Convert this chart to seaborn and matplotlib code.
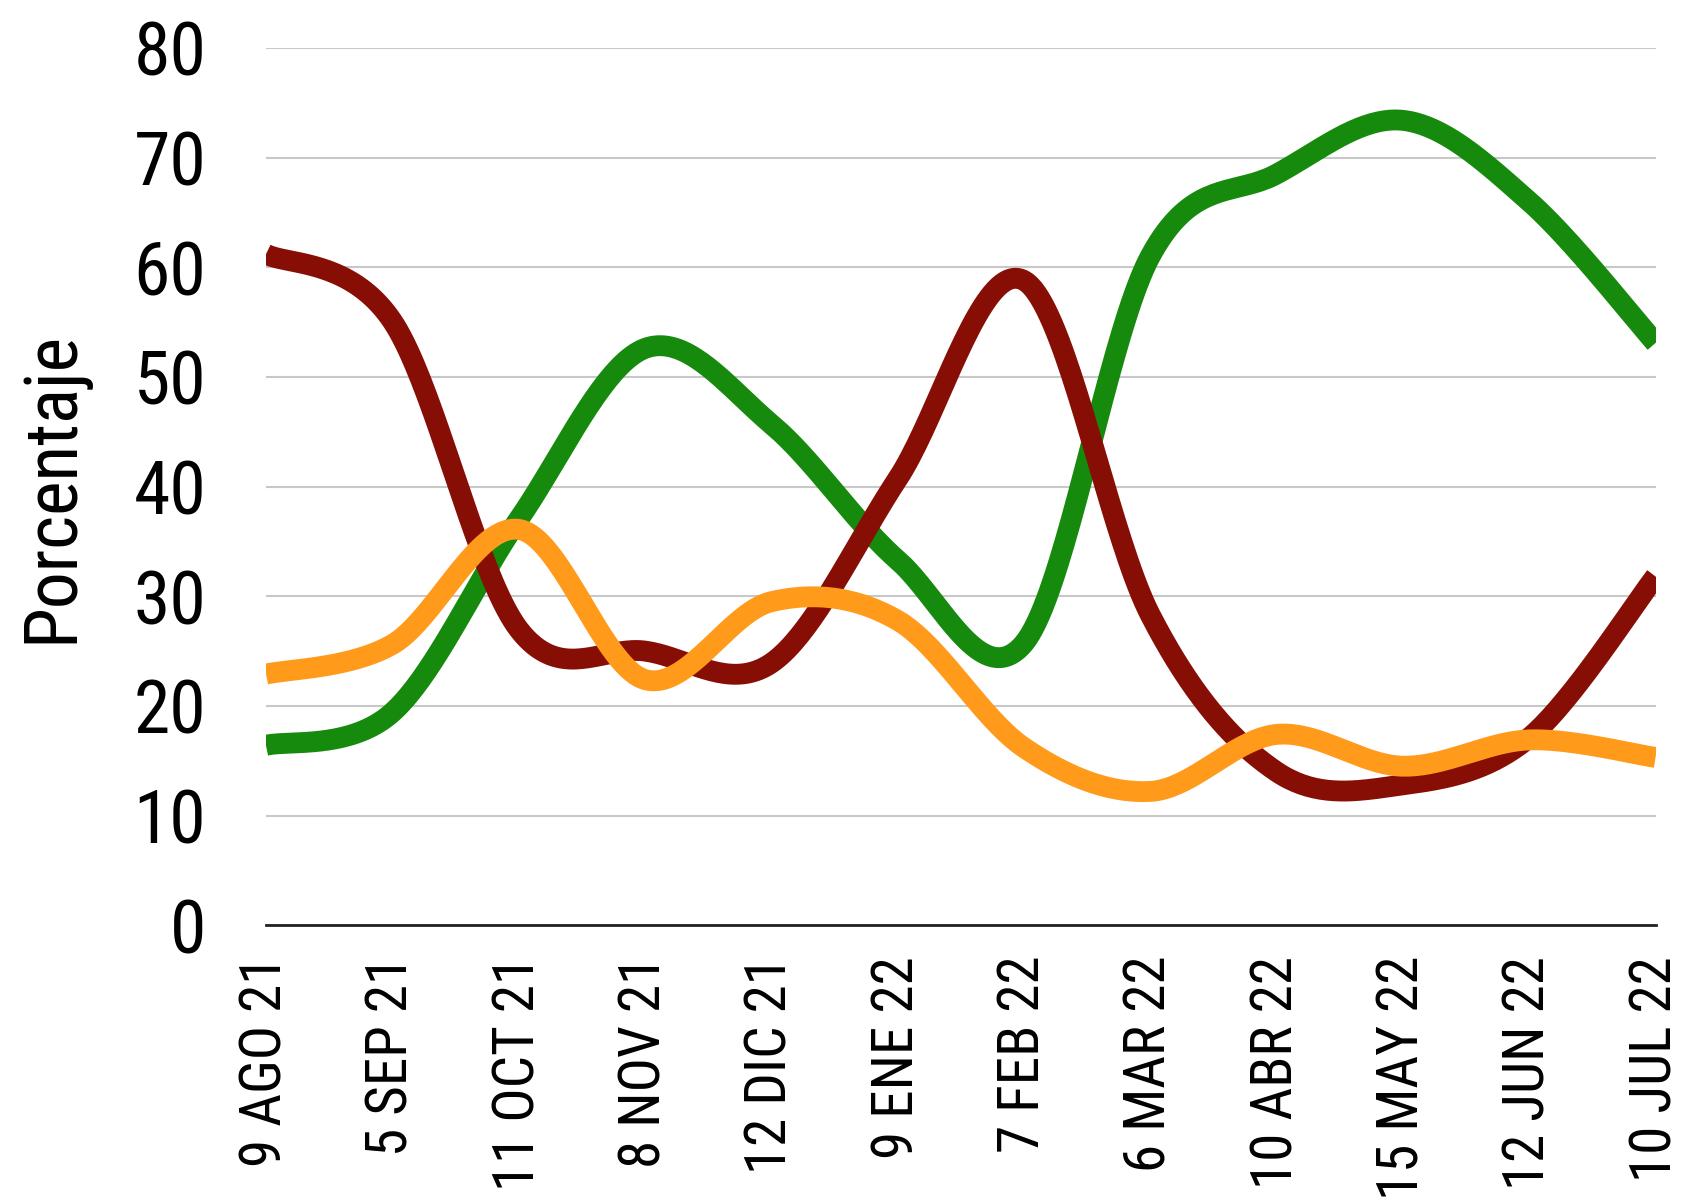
import numpy as np
import pandas as pd
import seaborn as sns
import matplotlib.pyplot as plt

# Data
fechas = ['9 AGO 21', '5 SEP 21', '11 OCT 21', '8 NOV 21', '12 DIC 21', '9 ENE 22',
          '7 FEB 22', '6 MAR 22', '10 ABR 22', '15 MAY 22', '12 JUN 22', '10 JUL 22']
verde = [16.4, 19.4, 37.0, 52.6, 45.7, 33.3, 25.7, 61.0, 68.5, 73.4, 66.0, 53.1]
rojo = [61.2, 55.1, 27.0, 25.0, 23.9, 40.7, 58.8, 28.3, 14.0, 12.8, 17.1, 31.8]
naranja = [22.9, 25.6, 36.1, 22.4, 29.5, 27.8, 16.2, 12.2, 17.4, 14.5, 16.9, 15.3]

colores = {'verde': '#168a0c', 'rojo': '#870e05', 'naranja': '#ff9a1a'}


def suavizar(y, n=40):
    # Catmull-Rom style bezier smoothing (like spreadsheet "smooth line")
    y = np.asarray(y, float)
    x = np.arange(len(y), dtype=float)
    pts = np.column_stack([x, y])
    ext = np.vstack([pts[0], pts, pts[-1]])
    out = []
    for i in range(len(pts) - 1):
        p0, p1, p2, p3 = ext[i], ext[i + 1], ext[i + 2], ext[i + 3]
        c1 = p1 + (p2 - p0) / 6
        c2 = p2 - (p3 - p1) / 6
        t = np.linspace(0, 1, n, endpoint=(i == len(pts) - 2))[:, None]
        seg = ((1 - t) ** 3) * p1 + 3 * ((1 - t) ** 2) * t * c1 + 3 * (1 - t) * t ** 2 * c2 + t ** 3 * p2
        out.append(seg)
    return np.vstack(out)


frames = []
for nombre, serie in [('verde', verde), ('rojo', rojo), ('naranja', naranja)]:
    s = suavizar(serie)
    frames.append(pd.DataFrame({'x': s[:, 0], 'y': s[:, 1], 'serie': nombre}))
df = pd.concat(frames, ignore_index=True)

sns.set_theme(style='white')
plt.rcParams['font.family'] = ['Roboto Condensed', 'Liberation Sans Narrow', 'Roboto', 'DejaVu Sans']
plt.rcParams['text.color'] = 'black'
plt.rcParams['axes.labelcolor'] = 'black'
plt.rcParams['xtick.color'] = 'black'
plt.rcParams['ytick.color'] = 'black'

fig = plt.figure(figsize=(17.05, 12), dpi=100)
ax = fig.add_axes([0.156, 0.229, 0.815, 0.731])

sns.lineplot(data=df, x='x', y='y', hue='serie', palette=colores, sort=False,
             estimator=None, linewidth=15, legend=False, ax=ax, zorder=3)
for c in ax.lines:
    c.set_solid_capstyle('butt')

ax.set_xlim(0, len(fechas) - 1)
ax.set_ylim(0, 80)
ax.set_yticks(range(0, 81, 10))
ax.set_xticks(range(len(fechas)))
ax.set_xticklabels(fechas, rotation=90, fontsize=41)
ax.tick_params(axis='y', labelsize=53, length=0, pad=43)
ax.tick_params(axis='x', length=0, pad=22)

ax.set_xlabel('')
ax.set_ylabel('Porcentaje', fontsize=53)
ax.yaxis.set_label_coords(-0.128, 0.5)

ax.grid(axis='y', color='#c8c8c8', linewidth=1.5, zorder=0)
ax.grid(axis='x', visible=False)
sns.despine(ax=ax, left=True, top=True, right=True)
ax.spines['bottom'].set_color('#222222')
ax.spines['bottom'].set_linewidth(2)

fig.savefig('out.png', dpi=100)
